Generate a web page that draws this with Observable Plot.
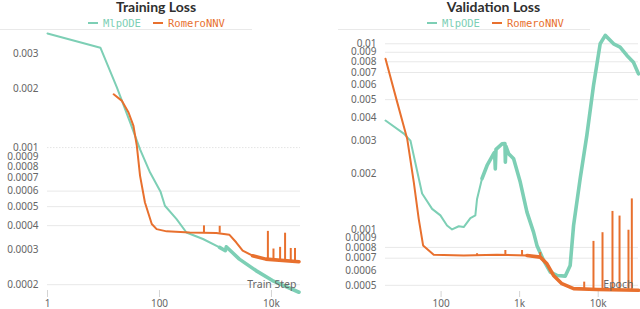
<!DOCTYPE html>
<html>
<head>
<meta charset="utf-8">
<script src="https://cdn.jsdelivr.net/npm/d3@7"></script>
<script src="https://cdn.jsdelivr.net/npm/@observablehq/plot@0.6"></script>
<style>
  html, body { margin: 0; padding: 0; background: #fff; }
  #wrap { position: relative; width: 640px; height: 309px; overflow: hidden; background: #fff; }
  .panel { position: absolute; top: 0; width: 320px; height: 309px; }
  .panel svg { position: absolute; left: 0; top: 0; }
  .title { position: absolute; top: 0; font-family: Lato, "Noto Sans", sans-serif; font-weight: 700; font-size: 14px; line-height: 13px; color: #2f2f2f; transform: translateX(-50%); white-space: nowrap; z-index: 2; }
  .leg { position: absolute; top: 17px; font-family: "DejaVu Sans Mono", monospace; font-size: 10.5px; line-height: 12px; white-space: nowrap; z-index: 2; }
  .dash { position: absolute; top: 21.5px; width: 10px; height: 2px; z-index: 2; }
  .sep { position: absolute; top: 29px; height: 1px; background: #e9e9e9; z-index: 1; }
</style>
</head>
<body>
<div id="wrap">
  <div class="panel" id="left" style="left:0"></div>
  <div class="panel" id="right" style="left:320px"></div>
</div>
<script>
// ---------- data ----------
const seriesNames = ["MlpODE", "RomeroNNV"];
const titles = ["Training Loss", "Validation Loss"];
const xLabels = ["Train Step", "Epoch"];

// Training loss, MlpODE
const trainStepMlp = [1, 8.8, 17.4, 30, 45, 68, 95, 104, 125, 202, 303, 598, 1183, 1500, 1560, 2670, 5290, 10400, 31000];
const trainLossMlp = [0.00382, 0.00323, 0.00202, 0.00134, 0.00098, 0.000746, 0.000626, 0.000598, 0.000505, 0.000432, 0.000369, 0.000342, 0.00031, 0.000298, 0.000312, 0.00027, 0.000236, 0.00021, 0.000183];

// Training loss, RomeroNNV
const trainStepRom = [15.2, 21.4, 28, 34.3, 39.4, 45, 55, 72.8, 89, 134, 347, 1033, 1780, 2340, 3060, 4600, 7940, 31000];
const trainLossRom = [0.00187, 0.00173, 0.00151, 0.00129, 0.00102, 0.000718, 0.000525, 0.000408, 0.000384, 0.000374, 0.000369, 0.000367, 0.000359, 0.000329, 0.000298, 0.000281, 0.00027, 0.000262];

// Training spikes, RomeroNNV: step, base, top
const trainSpikeStep = [623, 1190, 8630, 10860, 14270, 17500, 22100, 26300];
const trainSpikeBase = [0.000368, 0.000366, 0.00027, 0.000268, 0.000267, 0.000266, 0.000265, 0.000264];
const trainSpikeTop  = [0.000399, 0.000397, 0.000374, 0.000304, 0.00031, 0.000366, 0.000306, 0.000306];

// Validation loss, MlpODE
const valEpochMlp = [19.6, 33.5, 40.7, 57.3, 76.8, 98, 119, 138, 168, 194, 236, 273, 287, 332, 385, 467, 480, 490, 500, 597, 650, 658, 670, 724, 838, 1018, 1239, 1503, 1660, 2017, 2455, 2985, 3800, 4400, 4860, 5900, 7170, 8720, 10600, 12300, 15700, 19000, 23200, 28100, 32600];
const valLossMlp = [0.00386, 0.00328, 0.00301, 0.00156, 0.00129, 0.00119, 0.00105, 0.001, 0.00104, 0.00103, 0.00115, 0.00119, 0.00146, 0.00188, 0.00221, 0.00256, 0.0026, 0.00212, 0.0027, 0.00289, 0.0029, 0.0023, 0.0028, 0.00256, 0.0024, 0.0018, 0.00124, 0.000967, 0.00082, 0.000681, 0.000589, 0.000565, 0.00056, 0.00064, 0.00105, 0.00188, 0.00321, 0.00596, 0.01, 0.0111, 0.01, 0.0096, 0.00865, 0.00796, 0.00689];

// Validation loss, RomeroNNV
const valEpochRom = [19.6, 27.6, 37, 44.9, 51.9, 59, 80.5, 194, 515, 1240, 1830, 2226, 2700, 3450, 4860, 9620, 32600];
const valLossRom = [0.0083, 0.00485, 0.00308, 0.0018, 0.00114, 0.00082, 0.00073, 0.000724, 0.00073, 0.000724, 0.000709, 0.000653, 0.000565, 0.00051, 0.00048, 0.000475, 0.00047];

// Validation spikes, RomeroNNV: epoch, base, top
const valSpikeEpoch = [287, 658, 1073, 1830, 6640, 8710, 11350, 15200, 18700, 24300, 26800];
const valSpikeBase  = [0.000724, 0.000727, 0.000724, 0.000709, 0.000478, 0.000475, 0.000474, 0.000473, 0.000472, 0.000471, 0.00047];
const valSpikeTop   = [0.00074, 0.00077, 0.00077, 0.00075, 0.00052, 0.000862, 0.00096, 0.00125, 0.00118, 0.00099, 0.00146];

// Axis ticks
const leftYTicks = [0.003, 0.002, 0.001, 0.0009, 0.0008, 0.0007, 0.0006, 0.0005, 0.0004, 0.0003, 0.0002];
const leftYTickLabels = ["0.003", "0.002", "0.001", "0.0009", "0.0008", "0.0007", "0.0006", "0.0005", "0.0004", "0.0003", "0.0002"];
const leftGrid = [0.0006, 0.0005, 0.0004, 0.0002];
const leftGridDotted = [0.001];
const leftXTicks = [1, 100, 10000];
const leftXTickLabels = ["1", "100", "10k"];

const rightYTicks = [0.01, 0.009, 0.008, 0.007, 0.006, 0.005, 0.004, 0.003, 0.002, 0.001, 0.0009, 0.0008, 0.0007, 0.0006, 0.0005];
const rightYTickLabels = ["0.01", "0.009", "0.008", "0.007", "0.006", "0.005", "0.004", "0.003", "0.002", "0.001", "0.0009", "0.0008", "0.0007", "0.0006", "0.0005"];
const rightGrid = [0.01, 0.009, 0.008, 0.007, 0.005, 0.0008, 0.0007, 0.0005];
const rightXTicks = [100, 1000, 10000];
const rightXTickLabels = ["100", "1k", "10k"];

// ---------- build ----------
const green = "#7dcfb5", orange = "#e8702e";
const zip = (xs, ys) => xs.map((x, i) => ({x, y: ys[i]}));
const spikes = (xs, b, t) => xs.map((x, i) => ({x, y1: b[i], y2: t[i]}));

function panel({xDomain, yDomain, margins, xTicks, xTickLabels, yTicks, yTickLabels, grid, gridDotted, mlp, rom, spk, mlpNoiseFrom, romNoiseFrom, xLabel, labelDx, labelDy, tickSize}) {
  return Plot.plot({
    width: 320, height: 309,
    marginLeft: margins[0], marginRight: margins[1], marginTop: margins[2], marginBottom: margins[3],
    style: {fontFamily: "'Noto Sans', sans-serif", fontSize: "10px", color: "#666", background: "transparent", overflow: "visible"},
    x: {type: "log", domain: xDomain},
    y: {type: "log", domain: yDomain, axis: null},
    marks: [
      Plot.ruleY(grid, {stroke: "#e8e8e8", strokeWidth: 1}),
      Plot.ruleY(gridDotted, {stroke: "#e4e4e4", strokeWidth: 1, strokeDasharray: "1.5,1.5"}),
      // y tick labels
      Plot.text(yTicks, {y: d => d, text: (d, i) => yTickLabels[i], frameAnchor: "left", textAnchor: "end", dx: -9, fill: "#666"}),
      // x ticks and labels
      Plot.axisX({ticks: xTicks, tickFormat: d => xTickLabels[xTicks.indexOf(d)], tickSize, tickPadding: 2, stroke: "#d4d4d4", fill: "#666", label: null}),
      Plot.line(mlp, {x: "x", y: "y", stroke: green, strokeWidth: 2, strokeLinejoin: "round"}),
      Plot.line(mlp.filter(d => d.x >= mlpNoiseFrom), {x: "x", y: "y", stroke: green, strokeWidth: 3.6, strokeLinejoin: "round"}),
      Plot.line(rom, {x: "x", y: "y", stroke: orange, strokeWidth: 2, strokeLinejoin: "round"}),
      Plot.line(rom.filter(d => d.x >= romNoiseFrom), {x: "x", y: "y", stroke: orange, strokeWidth: 3.6, strokeLinejoin: "round"}),
      Plot.ruleX(spk, {x: "x", y1: "y1", y2: "y2", stroke: orange, strokeWidth: 2}),
      Plot.text([xLabel], {text: d => d, frameAnchor: "bottom-right", textAnchor: "end", lineAnchor: "middle", dx: labelDx, dy: labelDy, fill: "#666", fontSize: 10.5})
    ]
  });
}

const left = panel({
  xDomain: [1, 33000], yDomain: [0.0001868, 0.004], margins: [47, 20, 29, 19],
  xTicks: leftXTicks, xTickLabels: leftXTickLabels, yTicks: leftYTicks, yTickLabels: leftYTickLabels,
  grid: leftGrid, gridDotted: leftGridDotted,
  mlp: zip(trainStepMlp, trainLossMlp), rom: zip(trainStepRom, trainLossRom),
  spk: spikes(trainSpikeStep, trainSpikeBase, trainSpikeTop),
  mlpNoiseFrom: 1100, romNoiseFrom: 4000, xLabel: xLabels[0], labelDx: -4, labelDy: -6, tickSize: 7
});
const right = panel({
  xDomain: [19.6, 32600], yDomain: [0.000463, 0.01179], margins: [65, 2, 30, 18],
  xTicks: rightXTicks, xTickLabels: rightXTickLabels, yTicks: rightYTicks, yTickLabels: rightYTickLabels,
  grid: rightGrid, gridDotted: [],
  mlp: zip(valEpochMlp, valLossMlp), rom: zip(valEpochRom, valLossRom),
  spk: spikes(valSpikeEpoch, valSpikeBase, valSpikeTop),
  mlpNoiseFrom: 290, romNoiseFrom: 1000, xLabel: xLabels[1], labelDx: -5, labelDy: -7, tickSize: 6
});

function decorate(el, svg, title, cx, legX, sepX1, sepX2) {
  el.appendChild(svg);
  const t = document.createElement("div");
  t.className = "title"; t.style.left = cx + "px"; t.textContent = title; el.appendChild(t);
  const colors = [green, orange];
  seriesNames.forEach((n, i) => {
    const d = document.createElement("div");
    d.className = "dash"; d.style.left = legX[i] + "px"; d.style.background = colors[i]; el.appendChild(d);
    const s = document.createElement("div");
    s.className = "leg"; s.style.left = (legX[i] + 15) + "px"; s.style.color = colors[i]; s.textContent = n; el.appendChild(s);
  });
  const sep = document.createElement("div");
  sep.className = "sep"; sep.style.left = sepX1 + "px"; sep.style.width = (sepX2 - sepX1) + "px"; el.appendChild(sep);
}
decorate(document.getElementById("left"), left, titles[0], 156, [88, 153], 0, 252);
decorate(document.getElementById("right"), right, titles[1], 173.5, [107, 172], 18, 270);
</script>
</body>
</html>
